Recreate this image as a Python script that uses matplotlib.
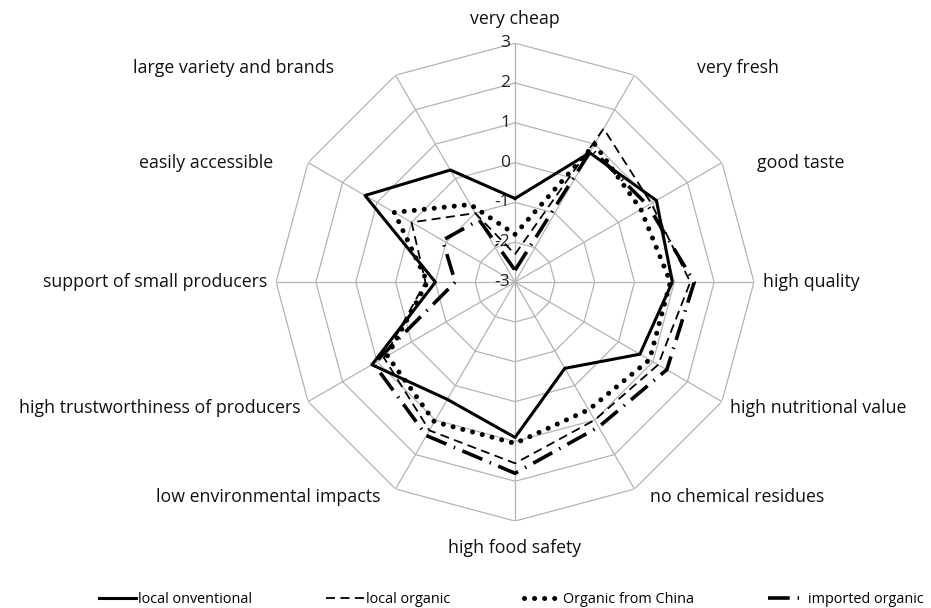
import numpy as np
import matplotlib
matplotlib.use("Agg")
import matplotlib.pyplot as plt

plt.rcParams['font.family'] = ['Open Sans', 'DejaVu Sans']

# axis names, clockwise from the top
categories = ["very cheap", "very fresh", "good taste", "high quality",
              "high nutritional value", "no chemical residues", "high food safety",
              "low environmental impacts", "high trustworthiness of producers",
              "support of small producers", "easily accessible", "large variety and brands"]

local_conventional = [-0.9, 0.75, 1.1, 0.95, 0.62, -0.5, 0.9, 0.4, 1.15, -1.0, 1.35, 0.25]
local_organic = [-2.3, 1.45, 0.95, 1.4, 1.15, 1.0, 1.55, 1.3, 0.8, -0.75, 0.0, -1.0]
organic_china = [-1.8, 1.0, 0.65, 0.9, 0.9, 0.7, 1.05, 1.05, 0.7, -0.8, 0.5, -0.75]
imported_organic = [-2.7, 0.85, 0.85, 1.5, 1.4, 1.2, 1.8, 1.45, 1.1, -1.5, -0.9, -1.2]

series_names = ["local onventional", "local organic", "Organic from China", "imported organic"]
ring_values = [-3, -2, -1, 0, 1, 2, 3]

n = len(categories)
angles = np.arange(n) * 2 * np.pi / n
closed = np.append(angles, angles[0])

fig = plt.figure(figsize=(9.31, 6.08), dpi=100)
ax = fig.add_axes([0.2965, 0.143, 0.5134, 0.786], projection='polar')
ax.set_theta_zero_location('N')
ax.set_theta_direction(-1)
ax.set_ylim(-3, 3)
ax.grid(False)
ax.set_xticks([])
ax.set_yticks([])
ax.spines['polar'].set_visible(False)
ax.patch.set_alpha(0)

grid_color = '#b4b4b4'
# polygon rings
for v in ring_values[1:]:
    ax.plot(closed, [v] * (n + 1), color=grid_color, lw=0.9, zorder=1)
# spokes
for a in angles:
    ax.plot([a, a], [-3, 3], color=grid_color, lw=0.9, zorder=1)

# ring labels just left of the top spoke
for v in ring_values:
    ax.annotate(str(v), xy=(0, v), xytext=(-5, 0), textcoords='offset pixels',
                ha='right', va='center', fontsize=12.5, color='#222222')

def close(vals):
    return list(vals) + [vals[0]]

l1, = ax.plot(closed, close(local_conventional), color='black', lw=2.2, zorder=3)
l2, = ax.plot(closed, close(local_organic), color='black', lw=1.3,
              linestyle=(0, (5, 3)), zorder=3)
l3, = ax.plot(closed, close(organic_china), color='black', lw=3.6,
              linestyle=(0, (0.01, 2.0)), dash_capstyle='round', zorder=3)
l4, = ax.plot(closed, close(imported_organic), color='black', lw=2.6,
              linestyle=(0, (6, 2.2, 0.4, 2.2)), zorder=3)

# category labels: offset in pixels from each outer vertex
label_offsets = [(0, 24, 'center'), (62, 7, 'left'), (35, 0, 'left'), (9, 0, 'left'),
                 (8, -6, 'left'), (15, -8, 'left'), (0, -27, 'center'),
                 (-15, -8, 'right'), (-8, -6, 'right'), (-9, 0, 'right'),
                 (-35, 0, 'right'), (-62, 7, 'right')]
for a, name, (dx, dy, ha) in zip(angles, categories, label_offsets):
    ax.annotate(name, xy=(a, 3), xytext=(dx, dy), textcoords='offset pixels',
                ha=ha, va='center', fontsize=12.8, color='#111111',
                annotation_clip=False)

fig.legend([l1, l2, l3, l4], series_names, loc='lower center',
           bbox_to_anchor=(0.549, -0.02), ncol=4, frameon=False, fontsize=10.4,
           handlelength=2.6, handletextpad=0.15, columnspacing=5.1)

fig.savefig("out.png", dpi=100)
